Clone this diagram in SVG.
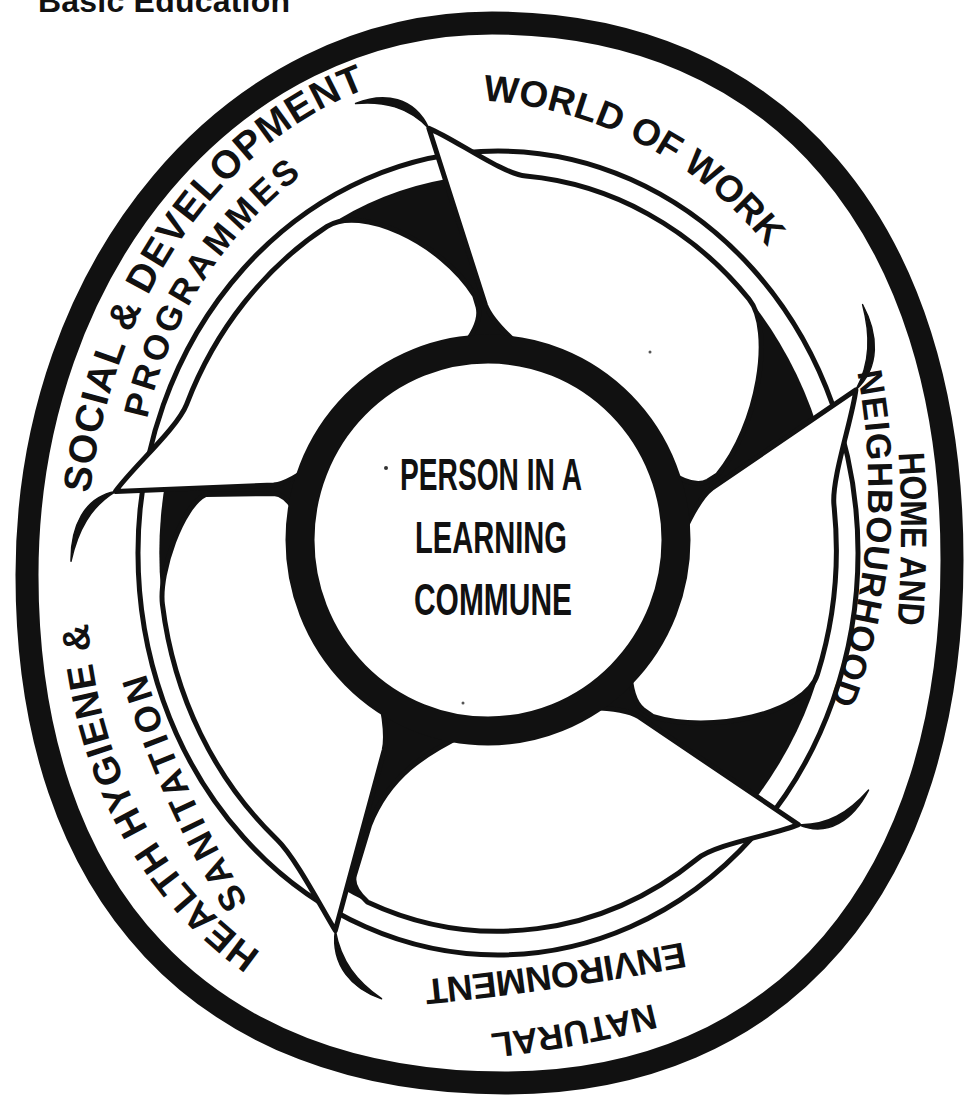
<svg xmlns="http://www.w3.org/2000/svg" width="968" height="1097" viewBox="0 0 968 1097">
<style>
.bk{fill:#111}
.ea{fill:none;stroke:#111;stroke-width:5;vector-effect:non-scaling-stroke}
.pet{fill:#fff;stroke:#111;stroke-width:5;stroke-linejoin:round;vector-effect:non-scaling-stroke}
.tail{fill:#111;stroke:#111;stroke-width:1.5;stroke-linejoin:round;vector-effect:non-scaling-stroke}
.rt{font-family:"Liberation Sans",Arial,sans-serif;font-weight:bold;fill:#111}
.ct{font-family:"Liberation Sans Narrow","Liberation Sans",Arial,sans-serif;font-weight:bold;fill:#111;text-anchor:middle}
</style>
<defs>
<path id="tail" d="M 408 0 C 440 -10 450 -40 445 -72 C 442 -42 432 -18 408 0 Z"/>
<path id="tp-social" d="M 85 575 C 85 290 256 66 492 66"/>
<path id="tp-programmes" d="M 146 424 Q 182 250 340 148"/>
<path id="tp-world" d="M 480.7 100.5 A 395 395 0 0 1 771.3 251.8"/>
<path id="tp-home" d="M 898 445 Q 905 540 896 640"/>
<path id="tp-neigh" d="M 857 372 Q 890 545 826 712"/>
<path id="tp-natural" d="M 665 1001 Q 568.5 1026 478 1035"/>
<path id="tp-env" d="M 695 940 Q 553.5 967.5 410 981"/>
<path id="tp-health" d="M 505 1024 C 253.6 1024 86 844.4 86 575"/>
<path id="tp-sanit" d="M 250 905 Q 178 785 143 665"/>
</defs>
<rect width="968" height="1097" fill="#fff"/>
<text class="rt" x="38" y="12" font-size="32" textLength="252">Basic Education</text>

<g transform="translate(498 553) scale(0.9474 1.0579)">
<g id="band">
<circle r="380" class="ea"/>
<circle r="357.5" class="bk"/>
</g>
<g id="petal-1" transform="rotate(-100.3)">
<path class="pet" d="M 408 0 C 394 24.2 351.8 68.4 345.3 92.5 A 357.5 357.5 0 0 1 188.86 303.53 C 154.9 324.66 68.64 291.6 31.33 241.29 L 27.26 230 Q 22.75 214.61 43.65 190.57 L 33.49 146.21 A 150 150 0 0 0 143.45 43.86 L 188.39 57.6 Q 217.57 32.07 233.27 28.84 Z"/>
</g>
<g id="petal-2" transform="rotate(-22.2)">
<path class="pet" d="M 408 0 C 394 24.2 351.8 68.4 345.3 92.5 A 357.5 357.5 0 0 1 268.89 233.6 C 242.75 263.69 142.07 243 92.64 204.53 L 85.68 194.76 Q 77.22 181.14 87.67 153.08 L 74.55 130.17 A 150 150 0 0 0 143.45 43.86 L 186.96 57.16 Q 216.07 31.89 231.78 28.68 Z"/>
</g>
<g id="petal-3" transform="rotate(39)">
<path class="pet" d="M 408 0 C 394 24.2 351.8 68.4 345.3 92.5 A 357.5 357.5 0 0 1 100.34 343.13 Q 78.1 343.23 73.92 331.98 L 56.49 285.11 C 43.53 236.32 58.84 196.74 80.26 155.51 L 68.8 133.28 A 150 150 0 0 0 143.45 43.86 L 168.69 51.57 Q 197.09 29.53 212.86 26.68 Z"/>
</g>
<g id="petal-4" transform="rotate(115.7)">
<path class="pet" d="M 396 0 C 383 22.5 351.8 68.4 345.3 92.5 A 357.5 357.5 0 0 1 197.32 298.12 C 172.3 314.68 104 320.05 83.93 302.11 L 57.25 248.37 L 51.91 237.62 Q 45.68 222.85 65.78 196.59 L 47.6 142.25 A 150 150 0 0 0 143.45 43.86 L 175.58 53.68 Q 204.25 30.42 220 27.45 Z"/>
</g>
<g id="petal-5" transform="rotate(188.2)">
<path class="pet" d="M 408 0 C 394 24.2 351.8 68.4 345.3 92.5 A 357.5 357.5 0 0 1 222.55 279.78 C 191.25 304.68 102.14 283.13 59.19 237.52 L 53.82 226.79 Q 47.57 212.03 65.76 185.7 L 50.07 141.4 A 150 150 0 0 0 143.45 43.86 L 198.24 60.61 Q 227.81 33.32 243.47 29.85 Z"/>
</g>
<g id="connectors">
<use href="#tail" class="tail" transform="rotate(-100.3)"/>
<use href="#tail" class="tail" transform="rotate(-22.2)"/>
<use href="#tail" class="tail" transform="rotate(39)"/>
<use href="#tail" class="tail" transform="rotate(115.7) translate(-12 0)"/>
<use href="#tail" class="tail" transform="rotate(188.2)"/>
</g>
</g>

<g id="hub">
<ellipse cx="488" cy="540" rx="188" ry="191" fill="#fff" stroke="#111" stroke-width="29"/>
<text class="ct" x="491" y="490" font-size="44" textLength="182" lengthAdjust="spacingAndGlyphs">PERSON IN A</text>
<text class="ct" x="491" y="553" font-size="44" textLength="152" lengthAdjust="spacingAndGlyphs">LEARNING</text>
<text class="ct" x="493" y="615" font-size="44" textLength="158" lengthAdjust="spacingAndGlyphs">COMMUNE</text>
<circle cx="386" cy="468" r="2" fill="#333"/>
<circle cx="463" cy="703" r="1.5" fill="#555"/>
<circle cx="650" cy="352" r="1.5" fill="#555"/>
</g>
<g id="outer-ring">
<path d="M 492 23 C 777.2 23 952 227.1 952 560 C 952 884.3 782.1 1083 505 1083 C 203.9 1083 27 895 27 575 C 27 265.9 231.6 23 492 23 Z" fill="none" stroke="#111" stroke-width="23"/>
</g>
<g id="labels">
<text class="rt" font-size="39"><textPath href="#tp-social" startOffset="82" textLength="515">SOCIAL &amp; DEVELOPMENT</textPath></text>
<text class="rt" font-size="35"><textPath href="#tp-programmes" startOffset="5" textLength="295">PROGRAMMES</textPath></text>
<text class="rt" font-size="37"><textPath href="#tp-world" startOffset="2" textLength="330">WORLD OF WORK</textPath></text>
<text class="rt" font-size="37"><textPath href="#tp-home" startOffset="8" textLength="172" lengthAdjust="spacingAndGlyphs">HOME AND</textPath></text>
<text class="rt" font-size="35"><textPath href="#tp-neigh" startOffset="0" textLength="335">NEIGHBOURHOOD</textPath></text>
<text class="rt" font-size="35"><textPath href="#tp-natural" startOffset="12" textLength="166">NATURAL</textPath></text>
<text class="rt" font-size="36"><textPath href="#tp-env" startOffset="12" textLength="262">ENVIRONMENT</textPath></text>
<text class="rt" font-size="38"><textPath href="#tp-health" startOffset="258" textLength="385">HEALTH HYGIENE &amp;</textPath></text>
<text class="rt" font-size="36"><textPath href="#tp-sanit" startOffset="3" textLength="252">SANITATION</textPath></text>
</g>
</svg>
